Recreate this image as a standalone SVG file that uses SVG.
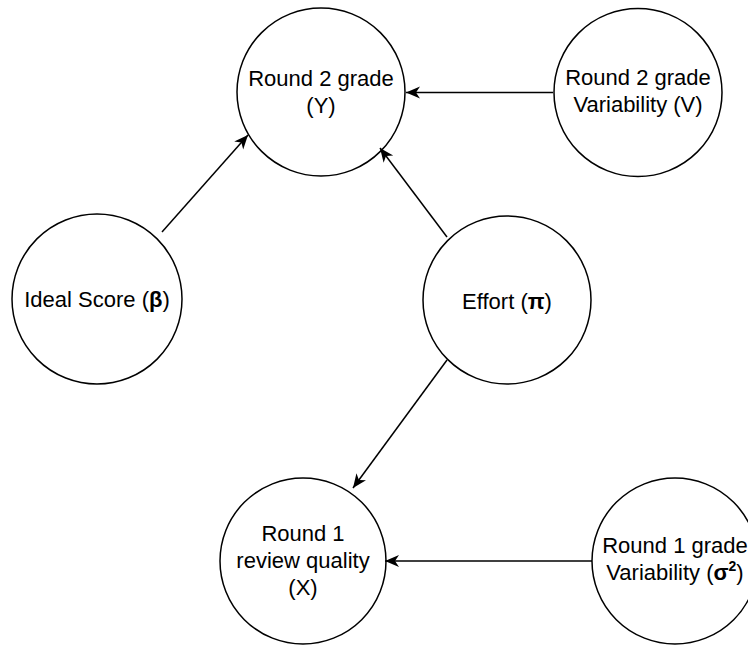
<svg xmlns="http://www.w3.org/2000/svg" width="748" height="647" viewBox="0 0 748 647">
  <style>
    .node circle { fill: #ffffff; stroke: #000000; stroke-width: 1.5; }
    .node text { font-family: "Liberation Sans", Arial, Helvetica, sans-serif; font-size: 22px; fill: #000000; text-anchor: middle; }
    .greek { font-weight: bold; }
    .edge { stroke: #000000; stroke-width: 1.5; fill: none; marker-end: url(#arrow); }
  </style>
  <defs>
    <marker id="arrow" markerUnits="userSpaceOnUse" markerWidth="16" markerHeight="14" refX="14" refY="6" orient="auto">
      <path d="M0,0 L14,6 L0,12 L4,6 Z" fill="#000000"/>
    </marker>
  </defs>

  <g id="node-Y" class="node">
    <circle cx="321" cy="92" r="84"/>
    <text x="321" y="86">Round 2 grade</text>
    <text x="321" y="113">(Y)</text>
  </g>

  <g id="node-V" class="node">
    <circle cx="638" cy="92.5" r="84"/>
    <text x="638" y="85">Round 2 grade</text>
    <text x="638" y="112">Variability (V)</text>
  </g>

  <g id="node-beta" class="node">
    <circle cx="97" cy="299" r="85"/>
    <text x="97" y="307">Ideal Score (<tspan class="greek">β</tspan>)</text>
  </g>

  <g id="node-pi" class="node">
    <circle cx="507" cy="300" r="84"/>
    <text x="507" y="309">Effort (<tspan class="greek">π</tspan>)</text>
  </g>

  <g id="node-X" class="node">
    <circle cx="303" cy="561" r="83"/>
    <text x="303" y="541">Round 1</text>
    <text x="303" y="568">review quality</text>
    <text x="303" y="595">(X)</text>
  </g>

  <g id="node-sigma" class="node">
    <circle cx="675" cy="561" r="83"/>
    <text x="675" y="553">Round 1 grade</text>
    <text x="675" y="580">Variability (<tspan class="greek">σ</tspan><tspan class="greek" font-size="14" dy="-9">2</tspan><tspan dy="9">)</tspan></text>
  </g>

  <g id="edges">
    <line class="edge" x1="553" y1="92.5" x2="406" y2="92.5"/>
    <line class="edge" x1="162" y1="232" x2="248" y2="135"/>
    <line class="edge" x1="447" y1="237" x2="380" y2="148"/>
    <line class="edge" x1="447" y1="360" x2="353" y2="488"/>
    <line class="edge" x1="592" y1="561" x2="385" y2="561"/>
  </g>
</svg>
